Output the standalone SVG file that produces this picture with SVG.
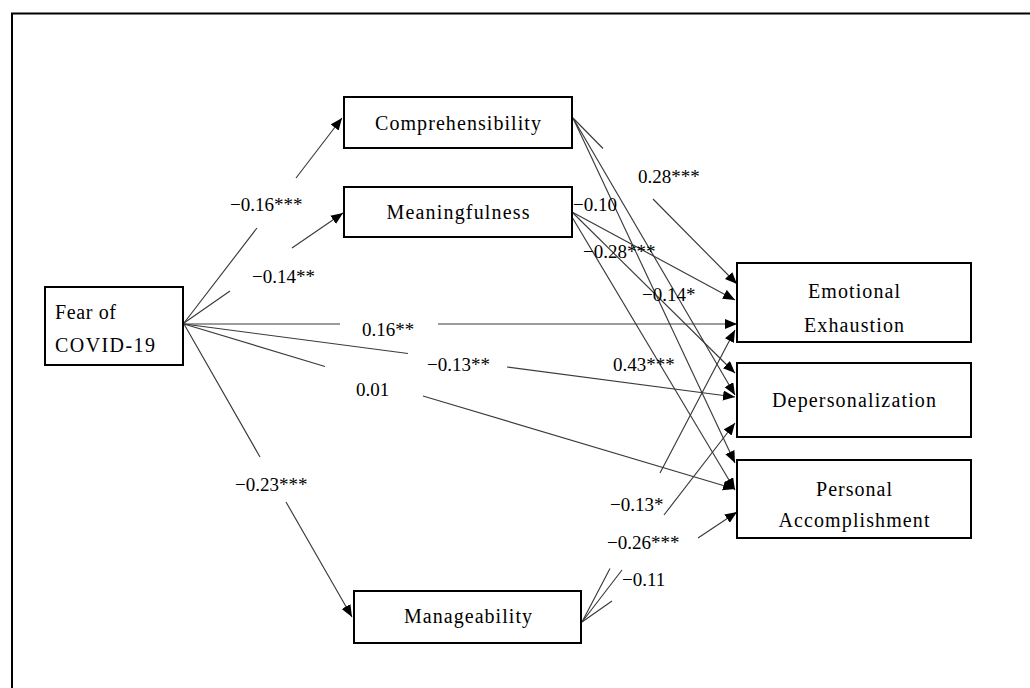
<svg xmlns="http://www.w3.org/2000/svg" width="1030" height="688" viewBox="0 0 1030 688">
<style>
.frame{fill:none;stroke:#000;stroke-width:2}
.box{fill:#fff;stroke:#000;stroke-width:2}
.nt{font-family:"Liberation Serif","DejaVu Serif",serif;font-size:20px;fill:#000}
.lbl{font-family:"Liberation Serif","DejaVu Serif",serif;font-size:19px;fill:#000}
.c{fill:none;stroke:#3a3a3a;stroke-width:1.15}
</style>
<defs>
<marker id="ah" markerUnits="userSpaceOnUse" markerWidth="13" markerHeight="11" refX="12" refY="5" orient="auto">
<path d="M0,0 L12,5 L0,10 z" fill="#000"/>
</marker>
</defs>
<rect x="0" y="0" width="1030" height="688" fill="#fff"/>
<rect class="frame" x="12" y="13.5" width="1100" height="800"/>

<g id="connectors">
<path class="c" d="M184,323 L257,228 M296,178 L342,118" marker-end="url(#ah)"/>
<path class="c" d="M184,323 L230,291 M292,248 L343,213" marker-end="url(#ah)"/>
<path class="c" d="M184,324 L340,324 M438,324 L737,324" marker-end="url(#ah)"/>
<path class="c" d="M184,324 L408,353.5 M507,367 L735,397" marker-end="url(#ah)"/>
<path class="c" d="M184,324 L325,366.5 M423,396 L735,489" marker-end="url(#ah)"/>
<path class="c" d="M184,324 L260,457 M286,502 L352,617" marker-end="url(#ah)"/>
<path class="c" d="M573,118 L603,148.5 M653,199 L737,284" marker-end="url(#ah)"/>
<path class="c" d="M573,118 L735,395" marker-end="url(#ah)"/>
<path class="c" d="M573,118 L735,463" marker-end="url(#ah)"/>
<path class="c" d="M572,212 L735,300" marker-end="url(#ah)"/>
<path class="c" d="M572,212 L735,373" marker-end="url(#ah)"/>
<path class="c" d="M569,212 L735,490" marker-end="url(#ah)"/>
<path class="c" d="M582,622 L610,568.6 M660,473 L735,330" marker-end="url(#ah)"/>
<path class="c" d="M582,622 L622,570 M664,515 L735,423" marker-end="url(#ah)"/>
<path class="c" d="M582,622 L612,601 M698,538 L737,512" marker-end="url(#ah)"/>
<text class="lbl" x="230" y="211">−0.16***</text>
<text class="lbl" x="252" y="283">−0.14**</text>
<text class="lbl" x="362" y="336">0.16**</text>
<text class="lbl" x="427" y="371">−0.13**</text>
<text class="lbl" x="356" y="396">0.01</text>
<text class="lbl" x="235" y="491">−0.23***</text>
<text class="lbl" x="638" y="183">0.28***</text>
<text class="lbl" x="573" y="211">−0.10</text>
<text class="lbl" x="583" y="258">−0.28***</text>
<text class="lbl" x="642" y="301">−0.14*</text>
<text class="lbl" x="613" y="371">0.43***</text>
<text class="lbl" x="610" y="511">−0.13*</text>
<text class="lbl" x="607" y="549">−0.26***</text>
<text class="lbl" x="622" y="586">−0.11</text>
</g>

<g id="fear">
<rect class="box" x="45" y="287" width="138" height="78"/>
<text class="nt" x="55" y="319" textLength="61" lengthAdjust="spacing">Fear of</text>
<text class="nt" x="55" y="352" textLength="100" lengthAdjust="spacing">COVID-19</text>
</g>
<g id="comprehensibility">
<rect class="box" x="344" y="97" width="228" height="51"/>
<text class="nt" x="458" y="130" text-anchor="middle" textLength="166" lengthAdjust="spacing">Comprehensibility</text>
</g>
<g id="meaningfulness">
<rect class="box" x="344" y="187" width="228" height="50"/>
<text class="nt" x="458" y="219" text-anchor="middle" textLength="143" lengthAdjust="spacing">Meaningfulness</text>
</g>
<g id="manageability">
<rect class="box" x="354" y="591" width="227" height="52"/>
<text class="nt" x="468" y="623" text-anchor="middle" textLength="128" lengthAdjust="spacing">Manageability</text>
</g>
<g id="emotional-exhaustion">
<rect class="box" x="737" y="263" width="234" height="79"/>
<text class="nt" x="854" y="298" text-anchor="middle" textLength="92" lengthAdjust="spacing">Emotional</text>
<text class="nt" x="854" y="332" text-anchor="middle" textLength="100" lengthAdjust="spacing">Exhaustion</text>
</g>
<g id="depersonalization">
<rect class="box" x="737" y="363" width="234" height="74"/>
<text class="nt" x="854" y="407" text-anchor="middle" textLength="164" lengthAdjust="spacing">Depersonalization</text>
</g>
<g id="personal-accomplishment">
<rect class="box" x="737" y="460" width="234" height="78"/>
<text class="nt" x="854" y="496" text-anchor="middle" textLength="76" lengthAdjust="spacing">Personal</text>
<text class="nt" x="854" y="527" text-anchor="middle" textLength="151" lengthAdjust="spacing">Accomplishment</text>
</g>
</svg>
